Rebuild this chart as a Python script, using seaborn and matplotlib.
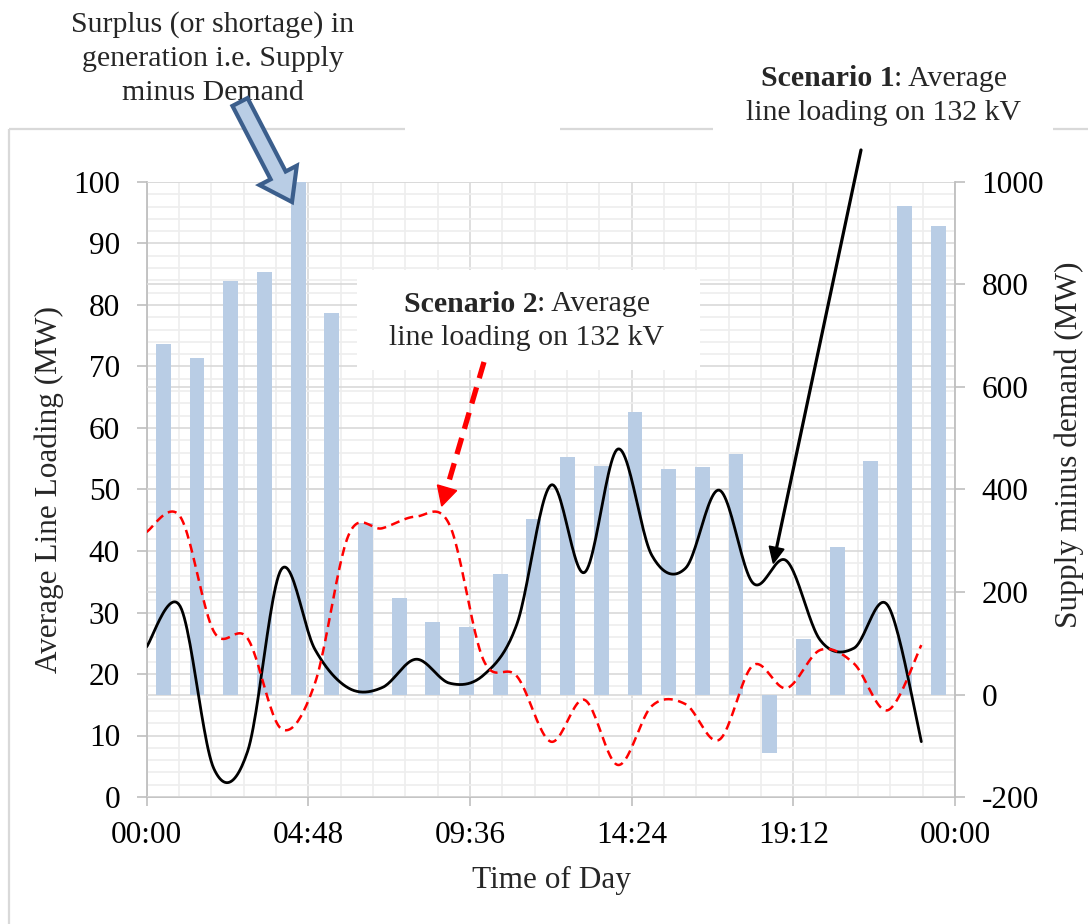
import numpy as np
import pandas as pd
import matplotlib
matplotlib.use("Agg")
import matplotlib.pyplot as plt
import seaborn as sns
from matplotlib.ticker import MultipleLocator, FixedLocator
from matplotlib.patches import Polygon, FancyArrow

# ---- data -------------------------------------------------------------
hours = list(range(24))                       # line samples, on the hour
bar_hours = [h + 0.5 for h in hours]          # bars sit mid-hour
surplus_mw = [684, 657, 806, 825, 1000, 745, 334, 188, 142, 131, 235, 343,
              463, 446, 552, 440, 443, 469, -114, 108, 288, 455, 953, 915]
scenario1_mw = [24.4, 31.0, 4.6, 7.4, 37.0, 24.0, 17.7, 17.8, 22.4, 18.5, 19.8, 28.2,
                50.7, 36.5, 56.6, 39.3, 37.2, 49.9, 34.8, 38.4, 25.5, 24.2, 31.2, 9.0]
scenario2_mw = [43.1, 45.6, 26.9, 25.8, 11.1, 18.5, 42.6, 43.7, 45.6, 44.2, 22.3, 19.6,
                9.0, 15.8, 5.2, 14.8, 15.1, 9.3, 21.4, 17.7, 23.9, 21.7, 14.1, 24.7]
tick_hours = [0, 4.8, 9.6, 14.4, 19.2, 24]
tick_labels = ["00:00", "04:48", "09:36", "14:24", "19:12", "00:00"]

BAR_COLOR = "#b9cde5"
GRID_MAJOR = "#d9d9d9"
GRID_MINOR = "#eeeeee"
AXIS_GRAY = "#bfbfbf"
FS = 22.5


def smooth_curve(x, y, steps=24):
    """Bezier smoothing through every point (spreadsheet-style smoothed line)."""
    x = np.asarray(x, float)
    y = np.asarray(y, float)
    px = np.concatenate([[x[0]], x, [x[-1]]])
    py = np.concatenate([[y[0]], y, [y[-1]]])
    t = np.linspace(0, 1, steps, endpoint=False)[:, None]
    out = []
    for i in range(1, len(px) - 2):
        p0 = np.array([px[i - 1], py[i - 1]])
        p1 = np.array([px[i], py[i]])
        p2 = np.array([px[i + 1], py[i + 1]])
        p3 = np.array([px[i + 2], py[i + 2]])
        c1 = p1 + (p2 - p0) / 6.0
        c2 = p2 - (p3 - p1) / 6.0
        seg = ((1 - t) ** 3) * p1 + 3 * ((1 - t) ** 2) * t * c1 \
            + 3 * (1 - t) * t ** 2 * c2 + t ** 3 * p2
        out.append(seg)
    out.append(np.array([[x[-1], y[-1]]]))
    pts = np.vstack(out)
    return pts[:, 0], pts[:, 1]


sns.set_theme(style="white")
plt.rcParams["font.family"] = ["Liberation Serif", "DejaVu Serif"]
plt.rcParams["axes.unicode_minus"] = False

W, H = 1088, 924
fig = plt.figure(figsize=(W / 100, H / 100), dpi=100)
fig.patch.set_facecolor("white")

rect = [146.5 / W, 1 - 797 / H, (955 - 146.5) / W, (797 - 182) / H]
ax = fig.add_axes(rect)          # left scale, grid
ax_bar = ax.twinx()              # right scale, bars
ax_line = ax.twinx()             # left scale, lines on top

# ---- bars -------------------------------------------------------------
bars_df = pd.DataFrame({"hour": bar_hours, "surplus": surplus_mw})
sns.barplot(data=bars_df, x="hour", y="surplus", ax=ax_bar, native_scale=True,
            width=0.44, color=BAR_COLOR, saturation=1, linewidth=0, errorbar=None)

# ---- lines ------------------------------------------------------------
sx, sy = smooth_curve(hours, scenario1_mw)
rx, ry = smooth_curve(hours, scenario2_mw)
s1_df = pd.DataFrame({"t": sx, "v": sy})
s2_df = pd.DataFrame({"t": rx, "v": ry})
sns.lineplot(data=s1_df, x="t", y="v", ax=ax_line, sort=False, estimator=None,
             color="black", linewidth=2.0)
sns.lineplot(data=s2_df, x="t", y="v", ax=ax_line, sort=False, estimator=None,
             color="#ff0000", linewidth=1.8, linestyle=(0, (3.6, 2.2)))

# ---- axes setup -------------------------------------------------------
ax.set_xlim(0, 24)
ax.set_ylim(0, 100)
ax_bar.set_ylim(-200, 1000)
ax_line.set_ylim(0, 100)

ax.xaxis.set_major_locator(FixedLocator(tick_hours))
ax.set_xticklabels(tick_labels)
ax.xaxis.set_minor_locator(MultipleLocator(0.96))
ax.yaxis.set_major_locator(MultipleLocator(10))
ax.yaxis.set_minor_locator(MultipleLocator(2))
ax_bar.yaxis.set_major_locator(MultipleLocator(200))

ax.grid(which="major", color=GRID_MAJOR, linewidth=1.2)
ax.grid(which="minor", color=GRID_MINOR, linewidth=1.2)
ax.set_axisbelow(True)
ax_bar.grid(False)
ax_bar.yaxis.grid(True, which="major", color=GRID_MAJOR, linewidth=1.2)
ax_bar.set_axisbelow(True)
ax_line.grid(False)

for a in (ax, ax_bar, ax_line):
    for s in a.spines.values():
        s.set_visible(False)
ax.spines["left"].set_visible(True)
ax.spines["bottom"].set_visible(True)
ax_bar.spines["right"].set_visible(True)
for s in (ax.spines["left"], ax.spines["bottom"], ax_bar.spines["right"]):
    s.set_color(AXIS_GRAY)
    s.set_linewidth(1.3)

ax.tick_params(axis="both", which="minor", length=0)
ax.tick_params(axis="y", which="major", direction="out", length=7, width=1.2,
               color=AXIS_GRAY, labelsize=FS, pad=12, left=True, labelcolor="black")
ax.tick_params(axis="x", which="major", direction="out", length=6.5, width=1.2,
               color=AXIS_GRAY, labelsize=FS, pad=10.5, bottom=True, labelcolor="black")
ax_bar.tick_params(axis="y", which="major", direction="out", length=7, width=1.2,
                   color=AXIS_GRAY, labelsize=FS, pad=12, right=True, labelcolor="black")
ax_bar.tick_params(axis="y", which="minor", length=0)
ax_line.yaxis.set_visible(False)

ax.set_xlabel("Time of Day", fontsize=FS)
ax.set_ylabel("Average Line Loading (MW)", fontsize=FS)
ax_bar.set_ylabel("Supply minus demand (MW)", fontsize=FS)
ax_line.set_xlabel("")
ax_line.set_ylabel("")
ax.xaxis.set_label_coords((551 - 146.5) / 808.5, -(866 - 797) / 615)
ax.yaxis.set_label_coords((64 - 146.5) / 808.5, (797 - 490) / 615)
ax_bar.yaxis.set_label_coords((1055 - 146.5) / 808.5, (797 - 445) / 615)

# ---- overlay in pixel coordinates for callouts --------------------------
ov = fig.add_axes([0, 0, 1, 1], zorder=10)
ov.set_xlim(0, W)
ov.set_ylim(H, 0)
ov.axis("off")
ov.patch.set_alpha(0)

# chart-area border (broken where the callout boxes sit)
border_kw = dict(color="#d9d9d9", linewidth=1.6, solid_capstyle="butt")
ov.plot([9, 405], [129, 129], **border_kw)
ov.plot([560, 713], [129, 129], **border_kw)
ov.plot([1053, W], [129, 129], **border_kw)
ov.plot([9, 9], [129, H], **border_kw)

# white box behind the Scenario 2 callout
ov.add_patch(plt.Rectangle((357, 270), 343, 100, facecolor="white", edgecolor="none"))

ANN = 21.5
renderer = fig.canvas.get_renderer()


def callout_line(cx, cy, bold, rest):
    t1 = ov.text(0, cy, bold, fontsize=ANN, fontweight="bold", ha="left", va="center")
    t2 = ov.text(0, cy, rest, fontsize=ANN, ha="left", va="center")
    w1 = t1.get_window_extent(renderer).width
    w2 = t2.get_window_extent(renderer).width
    x0 = cx - (w1 + w2) / 2
    t1.set_x(x0)
    t2.set_x(x0 + w1)


for txt, yy in [("Surplus (or shortage) in", 25), ("generation i.e. Supply", 59),
                ("minus Demand", 93)]:
    ov.text(213, yy, txt, fontsize=ANN, ha="center", va="center")

callout_line(884, 79, "Scenario 1", ": Average")
ov.text(884, 113, "line loading on 132 kV", fontsize=ANN, ha="center", va="center")
callout_line(527, 304, "Scenario 2", ": Average")
ov.text(527, 338, "line loading on 132 kV", fontsize=ANN, ha="center", va="center")

# block arrow pointing at the bars
ov.add_patch(FancyArrow(240, 102, 52, 100, width=17, head_width=42, head_length=30,
                        length_includes_head=True, facecolor=BAR_COLOR,
                        edgecolor="#3b5e8c", linewidth=3, zorder=5))


def arrow_head(tip, tail, length, width, color):
    tip = np.array(tip, float)
    tail = np.array(tail, float)
    d = (tip - tail) / np.linalg.norm(tip - tail)
    n = np.array([-d[1], d[0]])
    base = tip - d * length
    ov.add_patch(Polygon([tip, base + n * width / 2, base - n * width / 2],
                         closed=True, facecolor=color, edgecolor=color, linewidth=1))
    return base


# Scenario 2 arrow: thick red dashes with a solid head
base = arrow_head((441.7, 506), (484, 362), 19, 20, "#ff0000")
ov.plot([484, base[0]], [362, base[1]], color="#ff0000", linewidth=3.8,
        linestyle=(0, (3.2, 1.8)), solid_capstyle="butt", dash_capstyle="butt")

# Scenario 1 arrow: thin black line with a filled head
base = arrow_head((773.3, 563.3), (861, 150), 16, 15, "black")
ov.plot([861, base[0]], [150, base[1]], color="black", linewidth=2.3)

fig.savefig("out.png", dpi=100, facecolor="white")
